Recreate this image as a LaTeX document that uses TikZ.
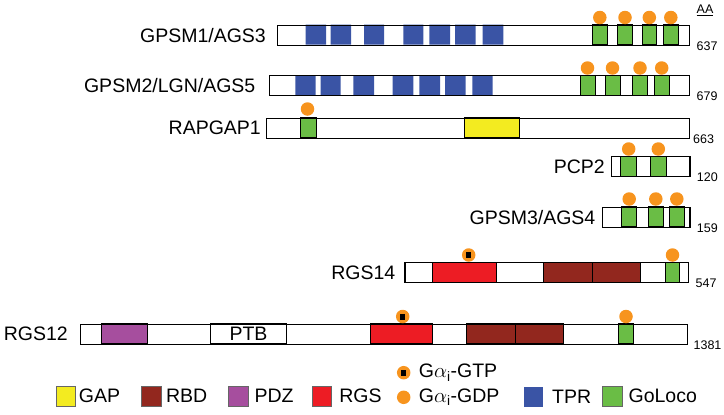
\documentclass[tikz,border=0pt]{standalone}
\usepackage{fontspec}
\setmainfont{Liberation Sans}
\usetikzlibrary{positioning}
\definecolor{gapyellow}{HTML}{F3EB20}
\definecolor{rbdbrown}{HTML}{92271E}
\definecolor{pdzpurple}{HTML}{A64E9E}
\definecolor{rgsred}{HTML}{ED1C24}
\definecolor{tprblue}{HTML}{3A54A5}
\definecolor{golocogreen}{HTML}{6ABD45}
\definecolor{gorange}{HTML}{F7941E}
\begin{document}
\begin{tikzpicture}[x=1pt,y=-1pt,
  protein/.style={inner sep=0,font=\fontsize{19.5}{22}\selectfont},
  aa/.style={inner sep=0,font=\fontsize{12.5}{14}\selectfont},
  bar/.style={draw,line width=1.4pt,minimum height=20pt,inner sep=0,anchor=north west},
  dom/.style={draw,line width=0.9pt},
  tpr/.style={fill=tprblue},
  goloco/.style={dom,fill=golocogreen},
  swatch/.style={draw=black!60,line width=0.5pt,minimum width=19.5pt,minimum height=20pt,inner sep=0},
  gdp/.style={circle,fill=gorange,minimum size=13.5pt,inner sep=0},
  gtp/.style={gdp,path picture={\fill[black] ([xshift=-2.3pt,yshift=-3pt]path picture bounding box.center) rectangle ++(4.6pt,6pt);}}]
\useasboundingbox (0,0) rectangle (724,415);
% domains
\fill[tpr] (305.7,24.5) rectangle (326,44.5) (330.7,24.5) rectangle (351,44.5) (364,24.5) rectangle (384,44.5) (403.3,24.5) rectangle (423.3,44.5) (429.3,24.5) rectangle (450,44.5) (455,24.5) rectangle (475.7,44.5) (482.7,24.5) rectangle (503.3,44.5);
\draw[goloco] (592.3,24.5) rectangle (607.3,44.5) (617.3,24.5) rectangle (632.7,44.5) (642,24.5) rectangle (656.7,44.5) (663.3,24.5) rectangle (678.3,44.5);
\fill[tpr] (295.3,75) rectangle (315.7,95) (320.7,75) rectangle (340.7,95) (353.3,75) rectangle (374,95) (392.7,75) rectangle (413.3,95) (419.3,75) rectangle (440,95) (445,75) rectangle (465.7,95) (472.3,75) rectangle (492.7,95);
\draw[goloco] (580,75) rectangle (595,95) (605,75) rectangle (620,95) (632.3,75) rectangle (647.7,95) (654.3,75) rectangle (669,95);
\draw[goloco] (300.7,117.5) rectangle (316,137.5);
\draw[dom,fill=gapyellow] (464.3,117.5) rectangle (519.3,137.5);
\draw[goloco] (620.7,156) rectangle (636.7,176) (650.7,156) rectangle (666,176);
\draw[goloco] (621.7,206.5) rectangle (636.7,226.5) (648.3,206.5) rectangle (663.3,226.5) (669.3,206.5) rectangle (684.3,226.5);
\draw[dom,fill=rgsred] (432.7,262) rectangle (496.3,282);
\draw[dom,fill=rbdbrown] (543.7,262) rectangle (592,282) (592,262) rectangle (640.3,282);
\draw[goloco] (665.3,262) rectangle (679.7,282);
\draw[dom,fill=pdzpurple] (101,323.5) rectangle (147.7,343.5);
\node[dom,protein,minimum width=76.4pt,minimum height=20pt] (ptb) at (248.5,333.5) {PTB};
\draw[dom,fill=rgsred] (370.3,323.5) rectangle (432.7,343.5);
\draw[dom,fill=rbdbrown] (466.3,323.5) rectangle (515.3,343.5) (515.3,323.5) rectangle (563.7,343.5);
\draw[goloco] (618.7,323.5) rectangle (633.7,343.5);
% proteins
\node[bar,minimum width=412.5pt] (gpsm1) at (276.5,24.5) {};
\node[bar,minimum width=420.5pt] (gpsm2) at (268.5,75) {};
\node[bar,minimum width=422.5pt] (rapgap1) at (266,117.5) {};
\node[bar,minimum width=78.6pt] (pcp2) at (610.7,156) {};
\node[bar,minimum width=87.6pt] (gpsm3) at (601.7,206.5) {};
\node[bar,minimum width=283.7pt] (rgs14) at (404.3,262) {};
\node[bar,minimum width=607pt] (rgs12) at (80,323.5) {};
\node[protein,left=10.5pt of gpsm1] {GPSM1/AGS3};
\node[protein,left=13pt of gpsm2] {GPSM2/LGN/AGS5};
\node[protein,left=5pt of rapgap1] {RAPGAP1};
\node[protein,left=5.7pt of pcp2] {PCP2};
\node[protein,left=6.2pt of gpsm3] {GPSM3/AGS4};
\node[protein,left=8.8pt of rgs14] {RGS14};
\node[protein,left=12pt of rgs12] {RGS12};
\node[aa] (aahead) at (705,10.5) {\underline{AA}};
\node[aa,right=6pt of gpsm1.south east] {637};
\node[aa,right=6pt of gpsm2.south east] {679};
\node[aa,right=3pt of rapgap1.south east] {663};
\node[aa,right=6pt of pcp2.south east] {120};
\node[aa,right=6pt of gpsm3.south east] {159};
\node[aa,right=6pt of rgs14.south east] {547};
\node[aa,right=5pt of rgs12.south east] {1381};
% bound G alpha
\node[gdp] (g1a) at (599.8,17.5) {};
\node[gdp] (g1b) at (625,17.5) {};
\node[gdp] (g1c) at (649.3,17.5) {};
\node[gdp] (g1d) at (670.8,17.5) {};
\node[gdp] (g2a) at (587.5,68) {};
\node[gdp] (g2b) at (612.5,68) {};
\node[gdp] (g2c) at (640,68) {};
\node[gdp] (g2d) at (661.7,68) {};
\node[gdp] (grap) at (307.5,109) {};
\node[gdp] (gpcpa) at (628.7,149) {};
\node[gdp] (gpcpb) at (658.3,149) {};
\node[gdp] (g3a) at (629.2,199) {};
\node[gdp] (g3b) at (655.8,199) {};
\node[gdp] (g3c) at (676.8,199) {};
\node[gtp] (t14) at (468.7,255) {};
\node[gdp] (g14) at (672.5,255) {};
\node[gtp] (t12) at (402.7,316.5) {};
\node[gdp] (g12) at (626,316.5) {};
% legend
\node[swatch,fill=gapyellow] (kgap) at (65.75,396) {};
\node[protein,right=3pt of kgap] {GAP};
\node[swatch,fill=rbdbrown] (krbd) at (151,396) {};
\node[protein,right=4.8pt of krbd] {RBD};
\node[swatch,fill=pdzpurple] (kpdz) at (238,396) {};
\node[protein,right=6.3pt of kpdz] {PDZ};
\node[swatch,fill=rgsred] (krgs) at (321.7,396) {};
\node[protein,right=7.5pt of krgs] {RGS};
\node[gtp] (kgtp) at (403.7,372.7) {};
\node[protein,right=8pt of kgtp] {G$\alpha$\textsubscript{i}-GTP};
\node[gdp] (kgdp) at (403.7,397.3) {};
\node[protein,right=8pt of kgdp] {G$\alpha$\textsubscript{i}-GDP};
\node[swatch,draw=none,fill=tprblue] (ktpr) at (533.7,396.5) {};
\node[protein,right=8.3pt of ktpr] {TPR};
\node[swatch,fill=golocogreen] (kgoloco) at (612,396) {};
\node[protein,right=6.4pt of kgoloco] {GoLoco};
\end{tikzpicture}
\end{document}
